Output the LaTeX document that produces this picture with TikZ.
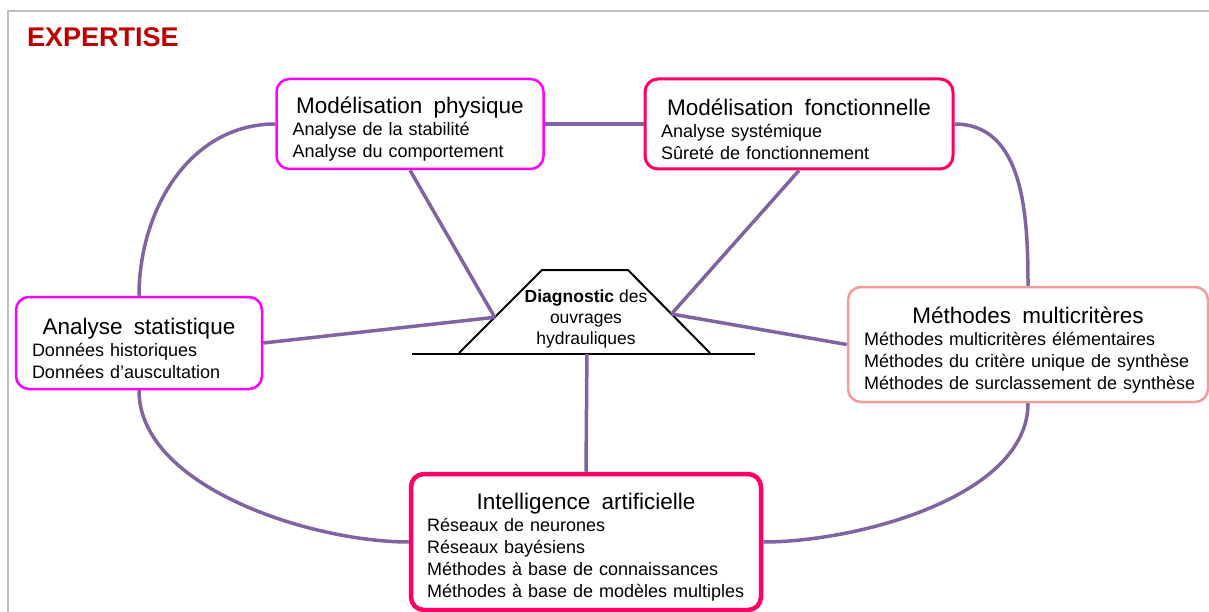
\documentclass[tikz,border=0pt]{standalone}
\usepackage{fontspec}
\setmainfont{Liberation Sans}
\usetikzlibrary{positioning}

\definecolor{linkcol}{HTML}{8064A2}
\definecolor{physcol}{HTML}{FF00FF}
\definecolor{fonccol}{HTML}{FF0066}
\definecolor{multicol}{HTML}{F59A9A}
\definecolor{titlecol}{HTML}{C00000}
\definecolor{framecol}{HTML}{BFBFBF}

\newcommand{\boxhead}[1]{\makebox[\linewidth]{\fontsize{22.5}{26}\selectfont\rule{0pt}{27pt}#1}}

\begin{document}
\begin{tikzpicture}[x=1pt,y=-1pt,on grid,
    box/.style={draw=#1,rounded corners=13pt,fill=white,align=left,inner xsep=16pt,inner ysep=0pt,font=\fontsize{18}{22}\selectfont},
    link/.style={draw=linkcol,line width=3.5pt},
    ground/.style={draw=black,line width=2pt},
    frame/.style={draw=framecol,line width=1.5pt}]
    \useasboundingbox (0,0) rectangle (1209,612);
    \draw[frame] (8,612) -- (8,11) -- (1209,11);
    \node[anchor=base west,inner sep=0pt,text=titlecol,font=\fontsize{27}{31}\selectfont\bfseries] (expertise) at (27,47) {EXPERTISE};

    % dam in the middle
    \node[align=center,font=\fontsize{17.5}{21}\selectfont] (diag) at (586,319) {\textbf{Diagnostic} des\\ouvrages\\hydrauliques};
    \draw[ground] ([shift={(-127,34)}]diag.center) -- coordinate[pos=0.43] (jl) ([shift={(-44,-49)}]diag.center)
        -- ([shift={(42,-49)}]diag.center) -- coordinate[pos=0.53] (jr) ([shift={(124,34)}]diag.center);
    \draw[ground] ([shift={(-174,35)}]diag.center) -- coordinate[pos=0.51] (foot) ([shift={(169,35)}]diag.center);

    \node[box=physcol,line width=2.5pt,text width=235pt,minimum height=90pt] (phys) [above left=195pt and 176pt of diag]
        {\boxhead{Modélisation\hspace{.5em}physique}\\Analyse de la stabilité\\Analyse du comportement};
    \node[box=fonccol,line width=3pt,text width=276pt,minimum height=90pt] (fonc) [above right=195pt and 213pt of diag]
        {\boxhead{Modélisation\hspace{.5em}fonctionnelle}\\Analyse systémique\\Sûreté de fonctionnement};
    \node[box=physcol,line width=2.5pt,text width=214pt,minimum height=92pt] (stat) [below left=24pt and 447pt of diag]
        {\boxhead{Analyse\hspace{.5em}statistique}\\Données historiques\\Données d’auscultation};
    \node[box=multicol,line width=2.5pt,text width=328pt,minimum height=115pt] (multi) [below right=25.5pt and 442pt of diag]
        {\boxhead{Méthodes\hspace{.5em}multicritères}\\Méthodes multicritères élémentaires\\Méthodes du critère unique de synthèse\\\mbox{Méthodes de surclassement de synthèse}};
    \node[box=fonccol,line width=4.5pt,text width=318pt,minimum height=136pt] (ia) [below=223pt of diag]
        {\boxhead{Intelligence\hspace{.5em}artificielle}\\Réseaux de neurones\\Réseaux bayésiens\\Méthodes à base de connaissances\\Méthodes à base de modèles multiples};

    \path[link]
    (phys.west) edge [out=180,in=90] (stat.north)
    (phys.east) edge (fonc.west)
    (fonc.east) edge [out=0,in=90] (multi.north)
    (stat.south) edge [out=-90,in=180,looseness=0.8] (ia.west)
    (multi.south) edge [out=-90,in=0,looseness=0.8] (ia.east)
    (phys.south) edge (jl)
    (stat.east) edge (jl)
    (fonc.south) edge (jr)
    (multi.west) edge (jr)
    (foot) edge (ia.north);
\end{tikzpicture}
\end{document}
